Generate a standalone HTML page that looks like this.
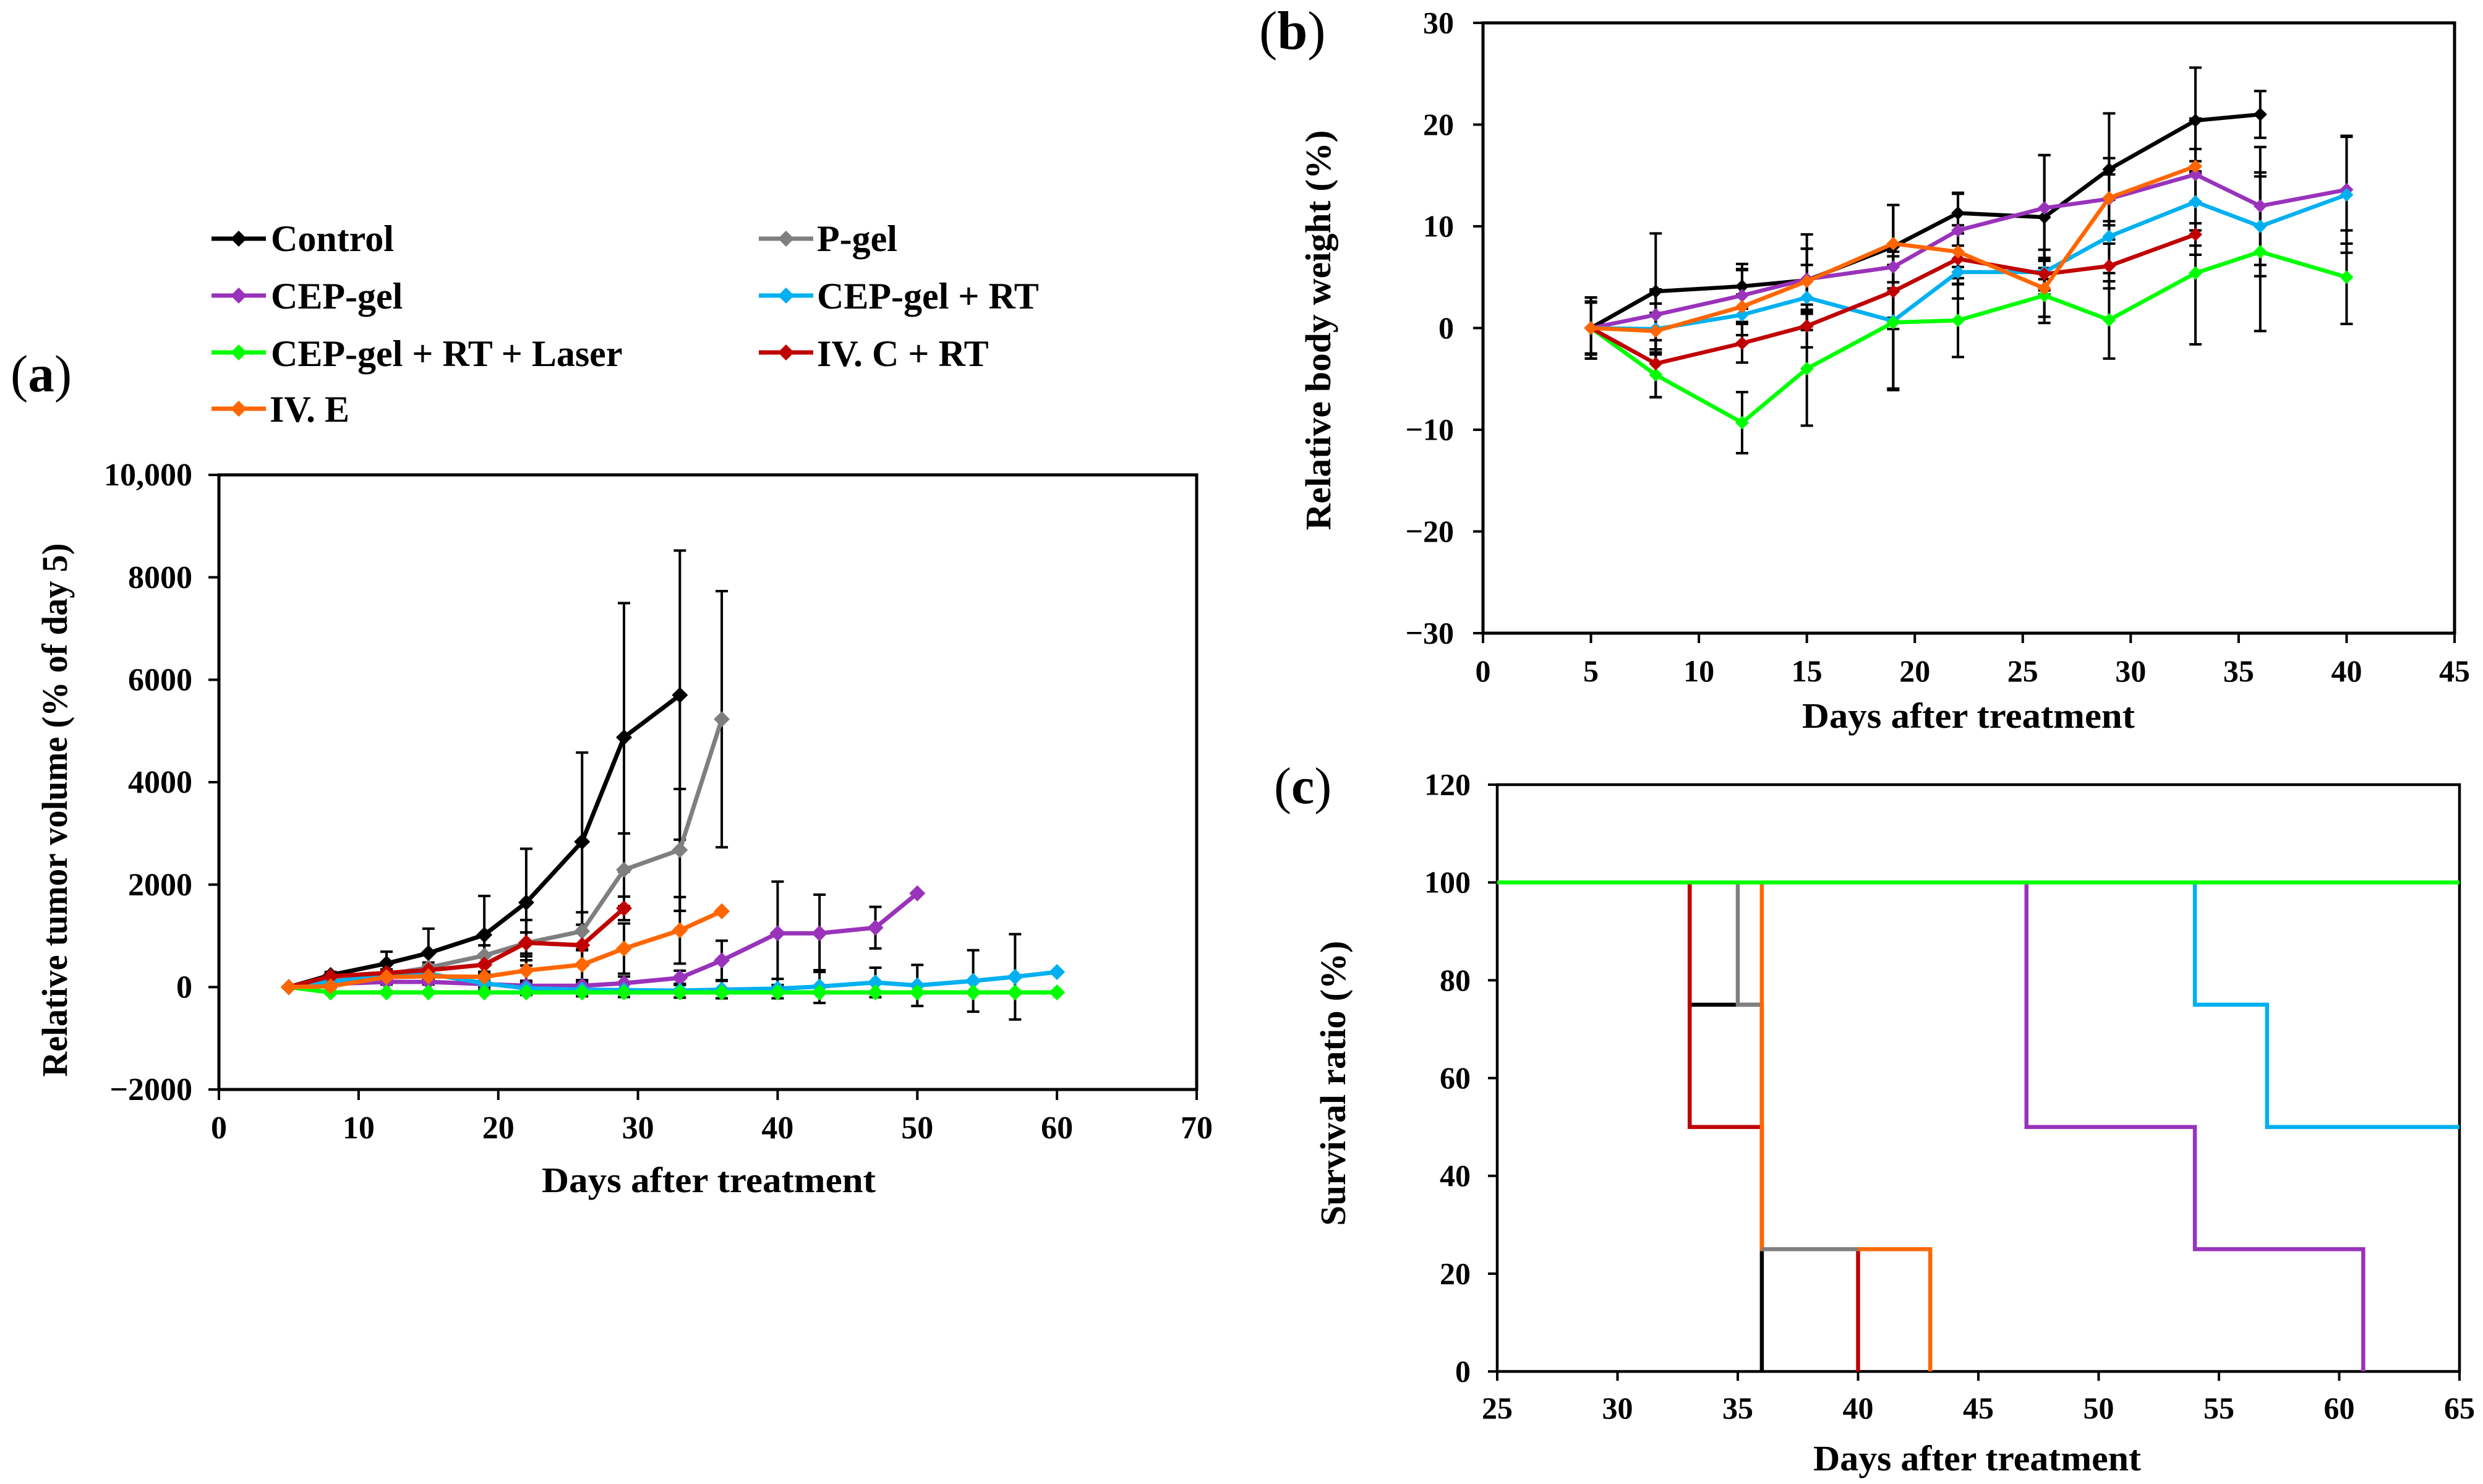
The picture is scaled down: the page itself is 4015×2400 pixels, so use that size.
<!DOCTYPE html>
<html lang="en">
<head>
<meta charset="utf-8">
<title>Tumor volume, body weight and survival charts</title>
<style>
html,body{margin:0;padding:0;background:#fff;width:4015px;height:2400px;overflow:hidden}
svg{display:block}
text{font-family:"Liberation Serif",serif;font-weight:bold;fill:#000}
</style>
</head>
<body>
<svg id="figure" xmlns="http://www.w3.org/2000/svg" width="4015" height="2400" viewBox="0 0 4015 2400">
<rect x="0" y="0" width="4015" height="2400" fill="#fff"/>
<text x="17" y="633" font-size="85"><tspan font-weight="normal">(</tspan>a<tspan font-weight="normal">)</tspan></text>
<text x="2036" y="79" font-size="88"><tspan font-weight="normal">(</tspan>b<tspan font-weight="normal">)</tspan></text>
<text x="2060" y="1299" font-size="84"><tspan font-weight="normal">(</tspan>c<tspan font-weight="normal">)</tspan></text>

<g>
  <g><line x1="342" x2="430" y1="386" y2="386" stroke="#000000" stroke-width="7"/><polygon points="386,373 399,386 386,399 373,386" fill="#000000"/><text x="438" y="406" font-size="60">Control</text></g>
  <g><line x1="1227" x2="1315" y1="386" y2="386" stroke="#7F7F7F" stroke-width="7"/><polygon points="1271,373 1284,386 1271,399 1258,386" fill="#7F7F7F"/><text x="1321" y="406" font-size="60">P-gel</text></g>
  <g><line x1="342" x2="430" y1="478" y2="478" stroke="#9933BB" stroke-width="7"/><polygon points="386,465 399,478 386,491 373,478" fill="#9933BB"/><text x="438" y="499" font-size="60">CEP-gel</text></g>
  <g><line x1="1227" x2="1315" y1="478" y2="478" stroke="#00B0F0" stroke-width="7"/><polygon points="1271,465 1284,478 1271,491 1258,478" fill="#00B0F0"/><text x="1321" y="499" font-size="60">CEP-gel + RT</text></g>
  <g><line x1="342" x2="430" y1="570" y2="570" stroke="#00FF00" stroke-width="7"/><polygon points="386,557 399,570 386,583 373,570" fill="#00FF00"/><text x="438" y="592" font-size="60">CEP-gel + RT + Laser</text></g>
  <g><line x1="1227" x2="1315" y1="570" y2="570" stroke="#C00000" stroke-width="7"/><polygon points="1271,557 1284,570 1271,583 1258,570" fill="#C00000"/><text x="1321" y="592" font-size="60">IV. C + RT</text></g>
  <g><line x1="342" x2="430" y1="661" y2="661" stroke="#FF6600" stroke-width="7"/><polygon points="386,648 399,661 386,674 373,661" fill="#FF6600"/><text x="436" y="682" font-size="60">IV. E</text></g>
</g>

<text x="1146" y="1928" font-size="58" text-anchor="middle" textLength="540" lengthAdjust="spacingAndGlyphs">Days after treatment</text>
<text transform="translate(108,1310) rotate(-90)" font-size="58" text-anchor="middle" textLength="863" lengthAdjust="spacingAndGlyphs">Relative tumor volume (% of day 5)</text>
<text x="3183" y="1177" font-size="58" text-anchor="middle" textLength="538" lengthAdjust="spacingAndGlyphs">Days after treatment</text>
<text transform="translate(2151,534) rotate(-90)" font-size="58" text-anchor="middle" textLength="647" lengthAdjust="spacingAndGlyphs">Relative body weight (%)</text>
<text x="3197" y="2378" font-size="58" text-anchor="middle" textLength="530" lengthAdjust="spacingAndGlyphs">Days after treatment</text>
<text transform="translate(2175,1752) rotate(-90)" font-size="58" text-anchor="middle" textLength="461" lengthAdjust="spacingAndGlyphs">Survival ratio (%)</text>
</svg>
<script>
/* ---------- Panel (a) data: relative tumor volume ---------- */
const aDays = [5,8,12,15,19,22,26,29,33,36,40,43,47,50,54,57,60];
const aControl = [0,235,460,663,1019,1650,2838,4876,5700];
const aControlErr = [0,60,230,477,760,1050,1740,2620,2823];
const aPgel = [0,170,250,380,615,860,1090,2290,2677,5230];
const aPgelErr = [0,60,80,100,200,207,370,710,1190,2500];
const aCepGel = [0,60,100,100,60,25,25,75,180,520,1050,1050,1160,1830];
const aCepGelErr = [0,30,50,50,60,70,90,130,140,385,1010,755,406,0];
const aCepRt = [0,100,218,260,75,-25,-50,-60,-70,-50,-30,10,90,32,120,200,294];
const aCepRtErr = [0,40,80,100,130,130,130,135,135,170,190,320,288,400,600,833,0];
const aLaser = [0,-105,-105,-105,-105,-105,-105,-105,-105,-105,-105,-105,-105,-105,-105,-105,-105];
const aIvcRt = [0,210,275,330,437,865,817,1537];
const aIvcRtErr = [0,40,70,90,200,445,400,230];
const aIvE = [0,16,195,210,200,323,437,752,1108,1480];
const aIvEErr = [0,30,60,70,100,200,300,490,650,0];
const aXTicks = [0,10,20,30,40,50,60,70];
const aYTicks = [-2000,0,2000,4000,6000,8000,10000];
const aYTickLabels = ["\u22122000","0","2000","4000","6000","8000","10,000"];

/* ---------- Panel (b) data: relative body weight ---------- */
const bDays = [5,8,12,15,19,22,26,29,33,36,40];
const bControl = [0,3.6,4.1,4.7,8.0,11.3,10.9,15.6,20.4,21.0];
const bControlErr = [3,5.7,2.2,4.5,4.1,2,6.1,5.5,5.2,2.3];
const bCepGel = [0,1.3,3.2,4.8,6.0,9.6,11.8,12.7,15.1,12.0,13.6];
const bCepGelErr = [2.5,2.5,2.6,3.0,6.1,3.6,5.2,4.0,5.5,5.8,5.3];
const bCepRt = [0,-0.1,1.3,3.0,0.7,5.5,5.5,9.0,12.4,10.0,13.1];
const bCepRtErr = [2.6,2.5,2.0,3.2,6.8,2.6,2.2,3.6,5.2,4.9,5.7];
const bLaser = [0,-4.6,-9.3,-4.0,0.55,0.75,3.2,0.8,5.4,7.5,5.0];
const bLaserErr = [2.6,2.2,3.0,5.6,6.5,3.6,2.7,3.8,7.0,7.8,4.6];
const bIvcRt = [0,-3.5,-1.5,0.2,3.6,6.8,5.3,6.1,9.2];
const bIvcRtErr = [3,3.3,1.9,2.1,2.6,2.5,1.6,2.2,1.1];
const bIvE = [0,-0.3,2.1,4.6,8.3,7.5,3.9,12.8,15.9];
const bIvEErr = [3,1.8,3.6,3.2,3.8,2.6,2.8,2.3,0.5];
const bXTicks = [0,5,10,15,20,25,30,35,40,45];
const bYTicks = [-30,-20,-10,0,10,20,30];
const bYTickLabels = ["\u221230","\u221220","\u221210","0","10","20","30"];

/* ---------- Panel (c) data: survival steps ---------- */
const cControlDays = [33,33,36,36];
const cControlRatio = [100,75,75,0];
const cPgelDays = [35,35,36];
const cPgelRatio = [100,75,75];
const cCepGelDays = [47,47,54,54,61,61];
const cCepGelRatio = [100,50,50,25,25,0];
const cCepRtDays = [54,54,57,57,65];
const cCepRtRatio = [100,75,75,50,50];
const cIvcRtDays = [33,33,36,36,40,40];
const cIvcRtRatio = [100,50,50,25,25,0];
const cIvEDays = [36,36,43,43];
const cIvERatio = [100,25,25,0];
const cPgelTailDays = [36,40];
const cPgelTailRatio = [25,25];
const cLaserDays = [25,65];
const cLaserRatio = [100,100];
const cXTicks = [25,30,35,40,45,50,55,60,65];
const cYTicks = [0,20,40,60,80,100,120];

const NS = "http://www.w3.org/2000/svg";
const root = document.getElementById("figure");

function make(parent, tag, attrs, txt) {
  const e = document.createElementNS(NS, tag);
  for (const k in attrs) e.setAttribute(k, attrs[k]);
  if (txt !== undefined) e.textContent = txt;
  parent.appendChild(e);
  return e;
}
function scale(d0, d1, p0, p1) {
  return function (v) { return p0 + (v - d0) * (p1 - p0) / (d1 - d0); };
}

function drawAxes(parent, prefix, g, xTicks, yTicks, yLabels) {
  const grp = make(parent, "g", {});
  
  
  const frame = make(grp, "rect", {x: g.left, y: g.top, width: g.right - g.left, height: g.bottom - g.top, fill: "none", stroke: "#000", "stroke-width": g.frame});
  
  
  xTicks.forEach(function (t) {
    const x = g.x(t);
    const tick = make(grp, "line", {x1: x, x2: x, y1: g.bottom, y2: g.bottom + g.tickLen, stroke: "#000", "stroke-width": 4});
    
    
    const label = make(grp, "text", {x: x, y: g.xLabelY, "font-size": g.font, "text-anchor": "middle"}, String(t));
    
    
  });
  yTicks.forEach(function (t, i) {
    const y = g.y(t);
    const tick = make(grp, "line", {x1: g.left - g.tickLen, x2: g.left, y1: y, y2: y, stroke: "#000", "stroke-width": 4});
    
    
    const label = make(grp, "text", {x: g.yLabelX, y: y + g.font * 0.33, "font-size": g.font, "text-anchor": "end"}, yLabels ? yLabels[i] : String(t));
    
    
  });
}

function drawErrors(parent, prefix, name, g, days, vals, errs) {
  const grp = make(parent, "g", {});
  
  
  errs.forEach(function (err, i) {
    if (!err) return;
    const x = g.x(days[i]);
    const hi = g.y(vals[i] + err);
    const lo = g.y(vals[i] - err);
    const capW = g.cap;
    const bar = make(grp, "path", {
      d: "M" + x + " " + hi + "V" + lo + "M" + (x - capW) + " " + hi + "H" + (x + capW) + "M" + (x - capW) + " " + lo + "H" + (x + capW),
      fill: "none", stroke: "#000", "stroke-width": 4
    });
    
    
  });
}

function drawLine(parent, prefix, name, color, g, days, vals) {
  const grp = make(parent, "g", {});
  
  
  const pts = vals.map(function (v, i) { return g.x(days[i]) + "," + g.y(v); }).join(" ");
  const line = make(grp, "polyline", {points: pts, fill: "none", stroke: color, "stroke-width": g.lw, "stroke-linejoin": "miter"});
  
  
  if (g.marker) {
    vals.forEach(function (v, i) {
      const x = g.x(days[i]);
      const y = g.y(v);
      const h = g.marker;
      const d = make(grp, "polygon", {points: x + "," + (y - h) + " " + (x + h) + "," + y + " " + x + "," + (y + h) + " " + (x - h) + "," + y, fill: color});
      
      
    });
  }
}

const BLACK = "#000000", GREY = "#7F7F7F", PURPLE = "#9933BB", BLUE = "#00B0F0", GREEN = "#00FF00", RED = "#C00000", ORANGE = "#FF6600";

/* Panel a */
const geoA = {left: 354, right: 1935, top: 768, bottom: 1762, frame: 5, tickLen: 17, font: 52, xLabelY: 1841, yLabelX: 311, cap: 10, lw: 7, marker: 13,
  x: scale(0, 70, 354, 1935), y: scale(-2000, 10000, 1762, 768)};
const panelA = make(root, "g", {});


drawAxes(panelA, "panel-a", geoA, aXTicks, aYTicks, aYTickLabels);
drawErrors(panelA, "panel-a", "control", geoA, aDays, aControl, aControlErr);
drawErrors(panelA, "panel-a", "p-gel", geoA, aDays, aPgel, aPgelErr);
drawErrors(panelA, "panel-a", "cep-gel", geoA, aDays, aCepGel, aCepGelErr);
drawErrors(panelA, "panel-a", "cep-gel-rt", geoA, aDays, aCepRt, aCepRtErr);
drawErrors(panelA, "panel-a", "iv-c-rt", geoA, aDays, aIvcRt, aIvcRtErr);
drawErrors(panelA, "panel-a", "iv-e", geoA, aDays, aIvE, aIvEErr);
drawLine(panelA, "panel-a", "control", BLACK, geoA, aDays, aControl);
drawLine(panelA, "panel-a", "p-gel", GREY, geoA, aDays, aPgel);
drawLine(panelA, "panel-a", "cep-gel", PURPLE, geoA, aDays, aCepGel);
drawLine(panelA, "panel-a", "cep-gel-rt", BLUE, geoA, aDays, aCepRt);
drawLine(panelA, "panel-a", "cep-gel-rt-laser", GREEN, geoA, aDays, aLaser);
drawLine(panelA, "panel-a", "iv-c-rt", RED, geoA, aDays, aIvcRt);
drawLine(panelA, "panel-a", "iv-e", ORANGE, geoA, aDays, aIvE);

/* Panel b */
const geoB = {left: 2398, right: 3969, top: 37, bottom: 1024, frame: 5, tickLen: 16, font: 50, xLabelY: 1102, yLabelX: 2351, cap: 10, lw: 6.5, marker: 11,
  x: scale(0, 45, 2398, 3969), y: scale(-30, 30, 1024, 37)};
const panelB = make(root, "g", {});


drawAxes(panelB, "panel-b", geoB, bXTicks, bYTicks, bYTickLabels);
drawErrors(panelB, "panel-b", "control", geoB, bDays, bControl, bControlErr);
drawErrors(panelB, "panel-b", "cep-gel", geoB, bDays, bCepGel, bCepGelErr);
drawErrors(panelB, "panel-b", "cep-gel-rt", geoB, bDays, bCepRt, bCepRtErr);
drawErrors(panelB, "panel-b", "cep-gel-rt-laser", geoB, bDays, bLaser, bLaserErr);
drawErrors(panelB, "panel-b", "iv-c-rt", geoB, bDays, bIvcRt, bIvcRtErr);
drawErrors(panelB, "panel-b", "iv-e", geoB, bDays, bIvE, bIvEErr);
drawLine(panelB, "panel-b", "control", BLACK, geoB, bDays, bControl);
drawLine(panelB, "panel-b", "cep-gel", PURPLE, geoB, bDays, bCepGel);
drawLine(panelB, "panel-b", "cep-gel-rt", BLUE, geoB, bDays, bCepRt);
drawLine(panelB, "panel-b", "cep-gel-rt-laser", GREEN, geoB, bDays, bLaser);
drawLine(panelB, "panel-b", "iv-c-rt", RED, geoB, bDays, bIvcRt);
drawLine(panelB, "panel-b", "iv-e", ORANGE, geoB, bDays, bIvE);

/* Panel c */
const geoC = {left: 2421, right: 3977, top: 1269, bottom: 2218, frame: 4.5, tickLen: 15, font: 50, xLabelY: 2294, yLabelX: 2378, cap: 0, lw: 6.5, marker: 0,
  x: scale(25, 65, 2421, 3977), y: scale(0, 120, 2218, 1269)};
const panelC = make(root, "g", {});


drawAxes(panelC, "panel-c", geoC, cXTicks, cYTicks, null);
drawLine(panelC, "panel-c", "control", BLACK, geoC, cControlDays, cControlRatio);
drawLine(panelC, "panel-c", "p-gel", GREY, geoC, cPgelDays, cPgelRatio);
drawLine(panelC, "panel-c", "cep-gel", PURPLE, geoC, cCepGelDays, cCepGelRatio);
drawLine(panelC, "panel-c", "cep-gel-rt", BLUE, geoC, cCepRtDays, cCepRtRatio);
drawLine(panelC, "panel-c", "iv-c-rt", RED, geoC, cIvcRtDays, cIvcRtRatio);
drawLine(panelC, "panel-c", "iv-e", ORANGE, geoC, cIvEDays, cIvERatio);
drawLine(panelC, "panel-c", "p-gel-tail", GREY, geoC, cPgelTailDays, cPgelTailRatio);
drawLine(panelC, "panel-c", "cep-gel-rt-laser", GREEN, geoC, cLaserDays, cLaserRatio);
</script>
</body>
</html>
